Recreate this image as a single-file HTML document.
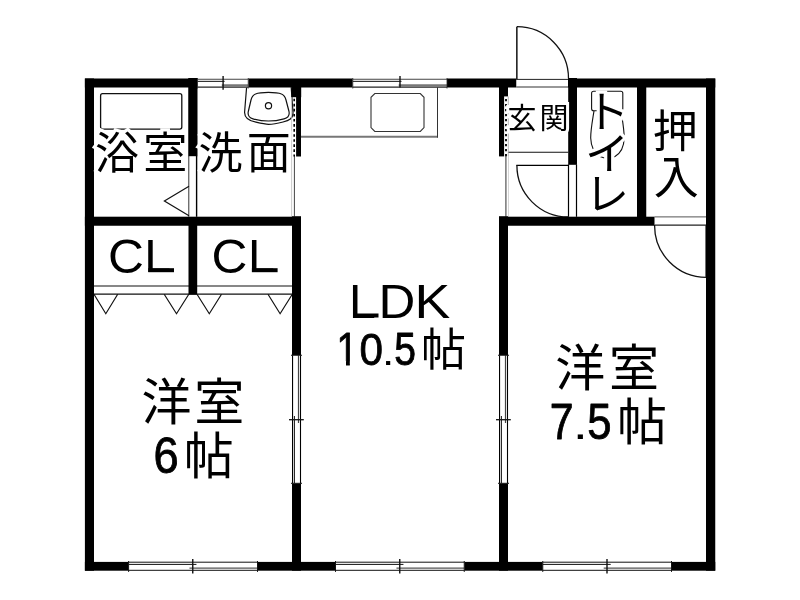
<!DOCTYPE html>
<html lang="ja"><head><meta charset="utf-8"><title>間取り図 2LDK</title>
<style>html,body{margin:0;padding:0;background:#fff}body{width:800px;height:600px;overflow:hidden;font-family:"Liberation Sans","Noto Sans CJK JP",sans-serif}svg{display:block;will-change:transform}</style>
</head><body>
<svg width="800" height="600" viewBox="0 0 800 600">
<rect width="800" height="600" fill="#fff"/>
<g id="thin">
</g>
<g id="fixtures" fill="none" stroke="#111" stroke-width="1.2">
<rect x="100.6" y="93.7" width="81.2" height="35.4" rx="2" ry="2" stroke-width="1.3"/>
<path d="M246.6 87.3 L244.6 112 C244.3 119 250 121 256 122.2 C262 123.6 266 124.3 268.5 124.3 C272 124.3 278 123.3 283 122 C289 120.5 293.2 118.5 293 112.5 L291.2 87.3"/>
<path d="M268.4 92.4 C262 92.4 258 93 255.5 94 C252.8 95 251.8 97 251 100 L248.3 111.5 C247.5 115.5 249 117.8 253 118.8 C258 120.2 264 121 268.4 121 C273 121 279 120.2 284 118.8 C288 117.8 289.8 115.5 289 111.5 L286 100 C285.2 97 284.2 95 281.5 94 C279 93 275 92.4 268.4 92.4 Z"/>
<circle cx="268.5" cy="105.8" r="3.1"/>
<path d="M374.8 93.5 H420.3 L424 97.3 V127.6 L420.3 131.5 H374.8 L371 127.6 V97.3 Z" stroke-width="1.1" stroke="#333"/>
<path d="M593.6 91.3 H620.8 Q622.8 91.3 622.8 93.3 V108.8 Q622.8 110.8 620.8 110.8 H593.6 Q591.6 110.8 591.6 108.8 V93.3 Q591.6 91.3 593.6 91.3 Z" stroke-width="1.1" stroke="#111"/>
<path d="M594 110.8 C592.6 120 590.6 130 590.7 138 C591 146 594 153 600 156.4 C603 157.8 605.5 158 607.5 158 C609.5 158 612 157.8 615 156.4 C621 153 624 146 624.2 138 C624.3 130 622.4 120 621 110.8" stroke-width="1.1" stroke="#111"/>
</g>
<line x1="301" y1="136.75" x2="438" y2="136.75" stroke="#777" stroke-width="1.8"/>
<line x1="437.5" y1="87" x2="437.5" y2="137.6" stroke="#333" stroke-width="1"/>
<line x1="291.6" y1="97" x2="291.6" y2="216.7" stroke="#bbb" stroke-width="0.8"/>
<line x1="294.4" y1="156" x2="294.4" y2="216.7" stroke="#444" stroke-width="1"/>
<line x1="188.8" y1="156" x2="188.8" y2="216.8" stroke="#333" stroke-width="1"/>
<line x1="196.6" y1="156" x2="196.6" y2="216.8" stroke="#000" stroke-width="1.4"/>
<path d="M189 186.3 L164.4 201 L189 215.7" fill="none" stroke="#111" stroke-width="1.2" />
<line x1="94" y1="286" x2="292.5" y2="286" stroke="#111" stroke-width="1.2"/>
<line x1="94" y1="294.2" x2="292.5" y2="294.2" stroke="#111" stroke-width="1.2"/>
<path d="M94 294.2 L105.8 313.7 L117.7 294.2" fill="none" stroke="#111" stroke-width="1.2" />
<path d="M164.2 294.2 L176.5 313.7 L188.8 294.2" fill="none" stroke="#111" stroke-width="1.2" />
<path d="M197 294.2 L209.3 313.7 L221.5 294.2" fill="none" stroke="#111" stroke-width="1.2" />
<path d="M268 294.2 L280.1 313.7 L292.3 294.2" fill="none" stroke="#111" stroke-width="1.2" />
<line x1="508.2" y1="152.25" x2="568.2" y2="152.25" stroke="#111" stroke-width="1.2"/>
<line x1="505.9" y1="156" x2="505.9" y2="216.7" stroke="#555" stroke-width="1.2"/>
<line x1="508.5" y1="156" x2="508.5" y2="216.7" stroke="#ccc" stroke-width="0.8"/>
<line x1="516.85" y1="26.7" x2="516.85" y2="79.4" stroke="#111" stroke-width="1.5"/>
<path d="M516.85 26.7 A51.7 51.7 0 0 1 568.5 78.6" fill="none" stroke="#111" stroke-width="1.3" />
<line x1="516.3" y1="79.4" x2="568.3" y2="79.4" stroke="#222" stroke-width="1"/>
<line x1="516.3" y1="87.05" x2="568.3" y2="87.05" stroke="#333" stroke-width="1.1"/>
<line x1="568.5" y1="164.5" x2="568.5" y2="216.8" stroke="#000" stroke-width="1.2"/>
<line x1="576.5" y1="164.5" x2="576.5" y2="216.8" stroke="#000" stroke-width="1.2"/>
<line x1="516.3" y1="165.35" x2="568.5" y2="165.35" stroke="#000" stroke-width="1.3"/>
<path d="M516.9 165.3 A51.6 51.6 0 0 0 568.5 217" fill="none" stroke="#111" stroke-width="1.3" />
<line x1="654.5" y1="216.9" x2="706.3" y2="216.9" stroke="#555" stroke-width="1"/>
<line x1="654.5" y1="225.1" x2="706.3" y2="225.1" stroke="#222" stroke-width="1.1"/>
<path d="M654.6 225 A51.7 51.7 0 0 0 706.3 277.3" fill="none" stroke="#111" stroke-width="1.3" />
<line x1="705.8" y1="225" x2="705.8" y2="277.3" stroke="#333" stroke-width="1"/>
<g id="walls" fill="#000">
<rect x="84.9" y="78.5" width="9.1" height="492.2" fill="#000"/>
<rect x="706" y="78.5" width="9.25" height="492.2" fill="#000"/>
<rect x="84.9" y="78.5" width="112.6" height="9" fill="#000"/>
<rect x="248.25" y="78.5" width="104.5" height="9" fill="#000"/>
<rect x="447" y="78.5" width="69.25" height="9" fill="#000"/>
<rect x="568" y="78.5" width="147.25" height="9" fill="#000"/>
<rect x="84.9" y="561.9" width="43.7" height="8.8" fill="#000"/>
<rect x="257.5" y="561.9" width="78" height="8.8" fill="#000"/>
<rect x="464.25" y="561.9" width="78.5" height="8.8" fill="#000"/>
<rect x="671.5" y="561.9" width="43.75" height="8.8" fill="#000"/>
<rect x="188.25" y="78" width="9.25" height="78.2" fill="#000"/>
<rect x="291.4" y="87" width="9.8" height="10.2" fill="#000"/>
<rect x="296.1" y="97" width="4.9" height="59.5" fill="#000"/>
<rect x="499" y="87" width="9" height="9.4" fill="#000"/>
<rect x="499" y="96" width="5.1" height="60.4" fill="#000"/>
<rect x="568.2" y="78" width="8.8" height="86.8" fill="#000"/>
<rect x="637" y="87" width="9.25" height="130" fill="#000"/>
<rect x="84.9" y="216.7" width="216.1" height="9.05" fill="#000"/>
<rect x="499" y="216.7" width="155.5" height="9.05" fill="#000"/>
<rect x="188.5" y="225" width="8.7" height="69.6" fill="#000"/>
<rect x="292" y="216.3" width="9" height="138.95" fill="#000"/>
<rect x="292" y="483.3" width="9" height="87.4" fill="#000"/>
<rect x="499" y="216.3" width="9" height="138.95" fill="#000"/>
<rect x="499" y="483.3" width="9" height="87.4" fill="#000"/>
</g>
<line x1="294.2" y1="98.75" x2="294.2" y2="156.4" stroke="#000" stroke-width="1.6" stroke-dasharray="2.6 2.46"/>
<line x1="506" y1="98.95" x2="506" y2="156.4" stroke="#000" stroke-width="1.8" stroke-dasharray="2.4 2.6"/>
<line x1="508.3" y1="96.5" x2="508.3" y2="156" stroke="#999" stroke-width="0.7"/>
<rect x="128.6" y="561.9" width="128.9" height="8.8" fill="#fff"/>
<line x1="128.6" y1="562.2" x2="257.5" y2="562.2" stroke="#111" stroke-width="1"/>
<line x1="128.6" y1="570.3" x2="257.5" y2="570.3" stroke="#111" stroke-width="1"/>
<line x1="128.6" y1="564.4" x2="196.45" y2="564.4" stroke="#111" stroke-width="1"/>
<line x1="189.45" y1="568.1" x2="257.5" y2="568.1" stroke="#555" stroke-width="1.4"/>
<line x1="192.75" y1="558.9" x2="192.75" y2="573.5" stroke="#111" stroke-width="1.4"/>
<line x1="128.6" y1="561" x2="128.6" y2="571.9" stroke="#111" stroke-width="1"/>
<line x1="257.5" y1="561" x2="257.5" y2="571.9" stroke="#111" stroke-width="1"/>
<rect x="335.5" y="561.9" width="128.75" height="8.8" fill="#fff"/>
<line x1="335.5" y1="562.2" x2="464.25" y2="562.2" stroke="#111" stroke-width="1"/>
<line x1="335.5" y1="570.3" x2="464.25" y2="570.3" stroke="#111" stroke-width="1"/>
<line x1="335.5" y1="564.4" x2="403.45" y2="564.4" stroke="#111" stroke-width="1"/>
<line x1="396.45" y1="568.1" x2="464.25" y2="568.1" stroke="#555" stroke-width="1.4"/>
<line x1="399.75" y1="558.9" x2="399.75" y2="573.5" stroke="#111" stroke-width="1.4"/>
<line x1="335.5" y1="561" x2="335.5" y2="571.9" stroke="#111" stroke-width="1"/>
<line x1="464.25" y1="561" x2="464.25" y2="571.9" stroke="#111" stroke-width="1"/>
<rect x="542.75" y="561.9" width="128.75" height="8.8" fill="#fff"/>
<line x1="542.75" y1="562.2" x2="671.5" y2="562.2" stroke="#111" stroke-width="1"/>
<line x1="542.75" y1="570.3" x2="671.5" y2="570.3" stroke="#111" stroke-width="1"/>
<line x1="542.75" y1="564.4" x2="610.7" y2="564.4" stroke="#111" stroke-width="1"/>
<line x1="603.7" y1="568.1" x2="671.5" y2="568.1" stroke="#555" stroke-width="1.4"/>
<line x1="607" y1="558.9" x2="607" y2="573.5" stroke="#111" stroke-width="1.4"/>
<line x1="542.75" y1="561" x2="542.75" y2="571.9" stroke="#111" stroke-width="1"/>
<line x1="671.5" y1="561" x2="671.5" y2="571.9" stroke="#111" stroke-width="1"/>
<rect x="197.5" y="78.5" width="50.75" height="9" fill="#fff"/>
<line x1="197.5" y1="79.25" x2="248.25" y2="79.25" stroke="#444" stroke-width="1"/>
<line x1="197.5" y1="87.1" x2="248.25" y2="87.1" stroke="#222" stroke-width="1.1"/>
<line x1="197.5" y1="81.35" x2="224.6" y2="81.35" stroke="#111" stroke-width="1"/>
<line x1="221.8" y1="85.5" x2="248.25" y2="85.5" stroke="#777" stroke-width="2.5"/>
<line x1="223.1" y1="76" x2="223.1" y2="89.8" stroke="#111" stroke-width="1.4"/>
<line x1="197.5" y1="78" x2="197.5" y2="88.5" stroke="#222" stroke-width="0.8"/>
<line x1="248.25" y1="78" x2="248.25" y2="88.5" stroke="#222" stroke-width="0.8"/>
<rect x="352.75" y="78.5" width="94.25" height="9" fill="#fff"/>
<line x1="352.75" y1="79.25" x2="447" y2="79.25" stroke="#444" stroke-width="1"/>
<line x1="352.75" y1="87.1" x2="447" y2="87.1" stroke="#222" stroke-width="1.1"/>
<line x1="352.75" y1="81.35" x2="401.5" y2="81.35" stroke="#111" stroke-width="1"/>
<line x1="398.7" y1="85.5" x2="447" y2="85.5" stroke="#777" stroke-width="2.5"/>
<line x1="400" y1="76" x2="400" y2="87.5" stroke="#111" stroke-width="1.4"/>
<line x1="352.75" y1="78" x2="352.75" y2="88.5" stroke="#222" stroke-width="0.8"/>
<line x1="447" y1="78" x2="447" y2="88.5" stroke="#222" stroke-width="0.8"/>
<rect x="292" y="355.25" width="9" height="128.05" fill="#fff"/>
<line x1="292.55" y1="355.25" x2="292.55" y2="483.3" stroke="#000" stroke-width="1.1"/>
<line x1="300.5" y1="355.25" x2="300.5" y2="483.3" stroke="#000" stroke-width="1.1"/>
<line x1="298.5" y1="355.25" x2="298.5" y2="423" stroke="#444" stroke-width="1.2"/>
<line x1="294.4" y1="416" x2="294.4" y2="483.3" stroke="#111" stroke-width="1"/>
<line x1="289" y1="419.7" x2="303.8" y2="419.7" stroke="#111" stroke-width="1.3"/>
<line x1="291" y1="355.25" x2="302" y2="355.25" stroke="#111" stroke-width="1"/>
<line x1="291" y1="483.3" x2="302" y2="483.3" stroke="#111" stroke-width="1"/>
<rect x="499" y="355.25" width="9" height="128.05" fill="#fff"/>
<line x1="499.55" y1="355.25" x2="499.55" y2="483.3" stroke="#000" stroke-width="1.1"/>
<line x1="507.5" y1="355.25" x2="507.5" y2="483.3" stroke="#000" stroke-width="1.1"/>
<line x1="505.5" y1="355.25" x2="505.5" y2="423" stroke="#444" stroke-width="1.2"/>
<line x1="501.4" y1="416" x2="501.4" y2="483.3" stroke="#111" stroke-width="1"/>
<line x1="496" y1="419.7" x2="510.8" y2="419.7" stroke="#111" stroke-width="1.3"/>
<line x1="498" y1="355.25" x2="509" y2="355.25" stroke="#111" stroke-width="1"/>
<line x1="498" y1="483.3" x2="509" y2="483.3" stroke="#111" stroke-width="1"/>
<defs><clipPath id="one"><rect x="0" y="-80" width="60" height="72.3"/><rect x="24.6" y="-8" width="9.9" height="12"/></clipPath></defs>
<g id="labels" font-family="'Liberation Sans', 'Noto Sans CJK JP', sans-serif" fill="#000">
<text x="95 143.3" y="169" font-size="44" fill="#fff" stroke="#fff" stroke-width="6.3" stroke-linejoin="miter" stroke-miterlimit="2.5">浴室</text>
<text x="95 143.3" y="169" font-size="44" fill="#000">浴室</text>
<text x="198.6 246.75" y="169" font-size="44" fill="#fff" stroke="#fff" stroke-width="6.3" stroke-linejoin="miter" stroke-miterlimit="2.5">洗面</text>
<text x="198.6 246.75" y="169" font-size="44" fill="#000">洗面</text>
<text x="507.5 539.5" y="129" font-size="29" fill="#fff" stroke="#fff" stroke-width="6" stroke-linejoin="miter" stroke-miterlimit="2.5">玄関</text>
<text x="507.5 539.5" y="129" font-size="29" fill="#000">玄関</text>
<text x="585" y="128.4" font-size="44" fill="#fff" stroke="#fff" stroke-width="6.3" stroke-linejoin="miter" stroke-miterlimit="2.5">ト</text>
<text x="585" y="128.4" font-size="44" fill="#000">ト</text>
<text x="585" y="170" font-size="44" fill="#fff" stroke="#fff" stroke-width="6.3" stroke-linejoin="miter" stroke-miterlimit="2.5">イ</text>
<text x="585" y="170" font-size="44" fill="#000">イ</text>
<text x="585" y="210" font-size="44" fill="#fff" stroke="#fff" stroke-width="6.3" stroke-linejoin="miter" stroke-miterlimit="2.5">レ</text>
<text x="585" y="210" font-size="44" fill="#000">レ</text>
<text x="652.8" y="147.6" font-size="45" fill="#fff" stroke="#fff" stroke-width="6.3" stroke-linejoin="miter" stroke-miterlimit="2.5">押</text>
<text x="652.8" y="147.6" font-size="45" fill="#000">押</text>
<text x="653.7" y="194" font-size="45" fill="#fff" stroke="#fff" stroke-width="6.3" stroke-linejoin="miter" stroke-miterlimit="2.5">入</text>
<text x="653.7" y="194" font-size="45" fill="#000">入</text>
<text transform="matrix(0.4974 0 0 0.4732 107.974 272.538)" font-size="100" x="0" y="0">C</text>
<text transform="matrix(0.4825 0 0 0.4651 144.342 272.200)" font-size="100" x="0" y="0">L</text>
<rect x="148.3" y="268.2" width="25.7" height="4"/>
<text transform="matrix(0.4974 0 0 0.4732 211.574 272.538)" font-size="100" x="0" y="0">C</text>
<text transform="matrix(0.4825 0 0 0.4651 247.942 272.200)" font-size="100" x="0" y="0">L</text>
<rect x="251.9" y="268.2" width="25.7" height="4"/>
<text transform="matrix(0.4825 0 0 0.4724 349.042 317.500)" font-size="100" x="0" y="0">L</text>
<rect x="353" y="313.5" width="25.5" height="4"/>
<text transform="matrix(0.5099 0 0 0.4724 378.617 317.500)" font-size="100" x="0" y="0">D</text>
<text transform="matrix(0.5368 0 0 0.4724 414.596 317.500)" font-size="100" x="0" y="0">K</text>
<text transform="matrix(0.3858 0 0 0.4535 336.489 364.600)" font-size="100" x="0" y="0" stroke="#000" stroke-width="1.91" stroke-linejoin="round" clip-path="url(#one)">1</text>
<text transform="matrix(0.4226 0 0 0.4491 359.449 364.561)" font-size="100" x="0" y="0" stroke="#000" stroke-width="1.84" stroke-linejoin="round">0</text>
<text transform="matrix(0.4411 0 0 0.3741 381.972 365.000)" font-size="100" x="0" y="0">.</text>
<text transform="matrix(0.3902 0 0 0.4543 394.338 364.656)" font-size="100" x="0" y="0" stroke="#000" stroke-width="1.89" stroke-linejoin="round">5</text>
<text x="421" y="365.8" font-size="45" fill="#000">帖</text>
<text x="141.4 194.25" y="420.3" font-size="50" fill="#000">洋室</text>
<text transform="matrix(0.4529 0 0 0.5056 153.400 473.006)" font-size="100" x="0" y="0" stroke="#000" stroke-width="1.67" stroke-linejoin="round">6</text>
<text x="183.75" y="474" font-size="50" fill="#000">帖</text>
<text x="555.25 608.9" y="386" font-size="50" fill="#000">洋室</text>
<text transform="matrix(0.4290 0 0 0.5044 549.701 438.600)" font-size="100" x="0" y="0" stroke="#000" stroke-width="1.71" stroke-linejoin="round">7</text>
<text transform="matrix(0.5461 0 0 0.4208 572.813 439.000)" font-size="100" x="0" y="0">.</text>
<text transform="matrix(0.4366 0 0 0.5088 587.152 438.903)" font-size="100" x="0" y="0" stroke="#000" stroke-width="1.69" stroke-linejoin="round">5</text>
<text x="616.9" y="439.5" font-size="50" fill="#000">帖</text>
</g>
</svg>
</body></html>
